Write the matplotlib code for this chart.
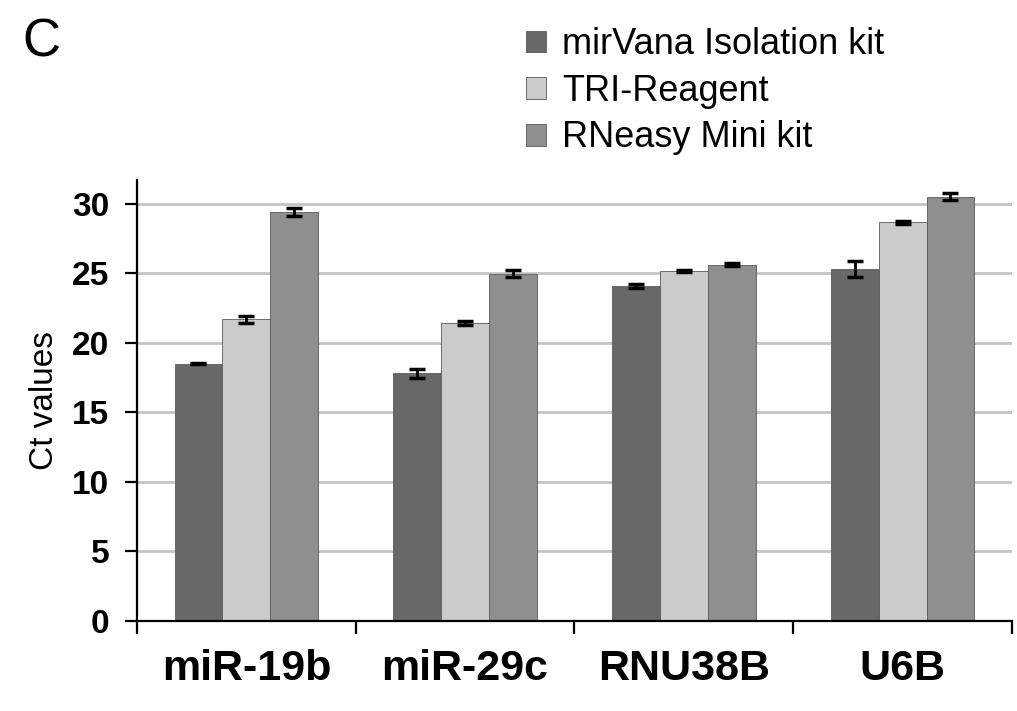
import numpy as np
import matplotlib
matplotlib.use("Agg")
import matplotlib.pyplot as plt

# ---------------------------------------------------------------------------
# Data
# ---------------------------------------------------------------------------
targets = ["miR-19b", "miR-29c", "RNU38B", "U6B"]
kits = ["mirVana Isolation kit", "TRI-Reagent", "RNeasy Mini kit"]

mirvana_ct = [18.5, 17.8, 24.1, 25.3]
tri_ct = [21.7, 21.4, 25.15, 28.65]
rneasy_ct = [29.4, 24.95, 25.6, 30.5]

mirvana_err = [0.05, 0.3, 0.15, 0.6]
tri_err = [0.25, 0.15, 0.08, 0.08]
rneasy_err = [0.3, 0.25, 0.1, 0.25]

colors = ["#686868", "#cbcbcb", "#8f8f8f"]

plt.rcParams["font.family"] = ["Liberation Sans", "DejaVu Sans"]

fig = plt.figure(figsize=(10.17, 7.11), dpi=100)
ax = fig.add_axes([0.1347, 0.1266, 0.8603, 0.6202])

x = np.arange(len(targets)) + 0.5
width = 0.219
series = [(mirvana_ct, mirvana_err), (tri_ct, tri_err), (rneasy_ct, rneasy_err)]
for i, (vals, errs) in enumerate(series):
    ax.bar(x + (i - 1) * width, vals, width, color=colors[i],
           edgecolor="#5a5a5a", linewidth=0.6, label=kits[i], zorder=2)
    ax.errorbar(x + (i - 1) * width, vals, yerr=errs, fmt="none",
                ecolor="black", elinewidth=2.0, capsize=6, capthick=2.5,
                zorder=3)

ax.set_xlim(0, len(targets))
ax.set_ylim(0, 31.7)
ax.set_yticks(np.arange(0, 31, 5))
ax.yaxis.grid(True, color="#c4c4c4", linewidth=2.0, zorder=0)
ax.set_axisbelow(True)

for s in ["top", "right"]:
    ax.spines[s].set_visible(False)
ax.spines["left"].set_linewidth(1.6)
ax.spines["bottom"].set_linewidth(1.6)

ax.tick_params(axis="y", direction="out", length=9, width=1.6,
               labelsize=24, pad=11)
for lbl in ax.get_yticklabels():
    lbl.set_fontweight("bold")

# category boundaries as major ticks, names on minor ticks
ax.set_xticks(np.arange(len(targets) + 1))
ax.set_xticklabels([])
ax.tick_params(axis="x", which="major", direction="out", length=9, width=1.6)
ax.set_xticks(x, minor=True)
ax.set_xticklabels(targets, minor=True, fontsize=31, fontweight="bold")
ax.tick_params(axis="x", which="minor", length=0, pad=20)

ax.set_ylabel("Ct values", fontsize=24)
ax.yaxis.set_label_coords(-0.088, 0.5)

fig.text(0.022, 0.975, "C", fontsize=38, va="top", ha="left")

fig.legend(loc="upper left", bbox_to_anchor=(0.496, 0.992), frameon=False,
           fontsize=26, handlelength=0.55, handleheight=0.55,
           handletextpad=0.45, labelspacing=0.32, borderaxespad=0.2)

fig.savefig("out.png", dpi=100)
